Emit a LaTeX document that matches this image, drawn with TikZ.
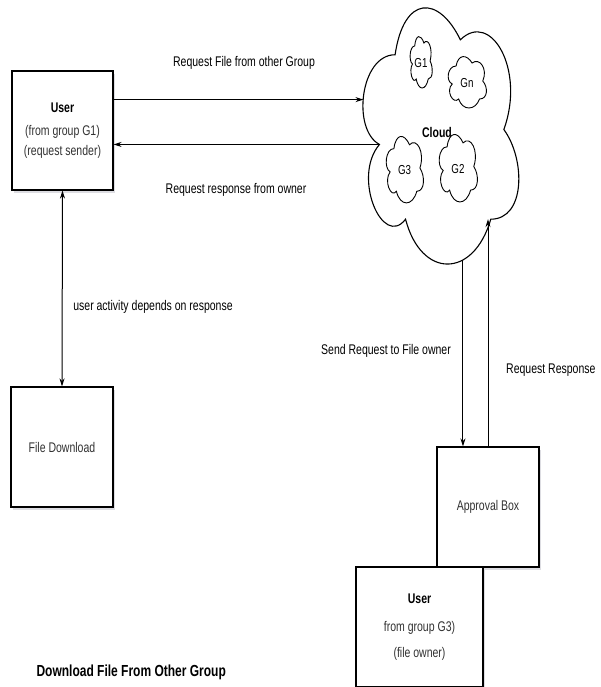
\documentclass[tikz,border=0pt]{standalone}
\usepackage{fontspec}
\setmainfont{Liberation Sans}[FakeStretch=0.75]
\usetikzlibrary{shadows,arrows.meta}
\definecolor{boxText}{RGB}{50,50,50}
\definecolor{shadowGray}{RGB}{120,120,140}

% outline of a cloud in a unit square
\newcommand{\cloudOutline}{(0.25,0.25) .. controls (0.05,0.25) and (0,0.5) .. (0.16,0.55)
  .. controls (0,0.66) and (0.18,0.9) .. (0.31,0.8)
  .. controls (0.4,1) and (0.7,1) .. (0.8,0.8)
  .. controls (1,0.8) and (1,0.6) .. (0.875,0.5)
  .. controls (1,0.3) and (0.8,0.1) .. (0.625,0.2)
  .. controls (0.5,0.05) and (0.3,0.05) .. (0.25,0.25) -- cycle}

\tikzset{
  box/.style={draw, line width=1.1pt, fill=white, align=center, text=boxText,
    font=\fontsize{14}{16}\selectfont,
    drop shadow={shadow xshift=2pt, shadow yshift=-3pt, opacity=0.25, fill=shadowGray}},
  cloudline/.style={draw, line width=1.1pt, fill=white},
  groupline/.style={draw, line width=0.9pt, fill=white},
  flow/.style={line width=1pt, -{Stealth[length=8pt,width=5pt]}},
  lbl/.style={font=\fontsize{14}{16}\selectfont, inner sep=1pt}
}

\begin{document}
\begin{tikzpicture}[x=1pt,y=-1pt]
  \useasboundingbox (0,0) rectangle (600,687);
  \fill[white] (0,0) rectangle (600,687);

  % cloud and the groups in it
  \begin{scope}[shift={(351.6,-20)}, x=174pt, y=-299pt]
    \draw[cloudline] \cloudOutline;
    \coordinate (cloudWest) at (0.068,0.4);
    \coordinate (cloudDip) at (0.16,0.55);
    \coordinate (cloudSouth) at (0.64,0.937);
    \coordinate (cloudIn) at (0.8,0.8);
  \end{scope}
  \foreach \name/\label/\xo/\yo/\w/\h in {g1/G1/408.5/31/24.7/60, gn/Gn/445.4/51/42.7/60, g3/G3/383.5/129.2/41.6/77.6, g2/G2/436.4/127.1/42.7/78.8}
  {
    \begin{scope}[shift={(\xo,\yo)}, x=\w pt, y=-\h pt]
      \draw[groupline] \cloudOutline;
      \node[font=\fontsize{13}{14}\selectfont, inner sep=0pt] (\name) at (0.505,0.53) {\label};
    \end{scope}
  }
  \node[font=\bfseries\fontsize{14}{16}\selectfont] (cloudLabel) at (437,132) {Cloud};

  % boxes
  \node[box, minimum width=101pt, minimum height=119pt] (user) at (62.5,130.5)
    {\textbf{\textcolor{black}{User}}\\[7pt](from group G1)\\[4pt](request sender)};
  \node[box, minimum width=102pt, minimum height=120pt] (download) at (62,447) {File Download};
  \node[box, minimum width=102pt, minimum height=120pt] (approval) at (488,507) {Approval Box};
  \node[box, minimum width=127pt, minimum height=120pt] (owner) at (419.5,627)
    {\textbf{\textcolor{black}{User}}\\[12pt]from group G3)\\[10pt](file owner)};

  % connectors
  \draw[flow] (cloudWest -| user.east) -- (cloudWest);
  \draw[flow] (cloudDip) -- (cloudDip -| user.east);
  \draw[flow, {Stealth[length=8pt,width=5pt]}-{Stealth[length=8pt,width=5pt]}] (user.south) -- (download.north);
  \draw[flow] (cloudSouth) -- (cloudSouth |- approval.north);
  \draw[flow] (approval.north) -- (approval.north |- cloudIn);

  % labels
  \node[lbl] (lblSendFile) at (244,63) {Request File from other Group};
  \node[lbl] (lblResponse) at (236,190) {Request response from owner};
  \node[lbl] (lblActivity) at (153,307) {user activity depends on response};
  \node[lbl] (lblToOwner) at (386,351) {Send Request to File owner};
  \node[lbl, anchor=west] (lblOwnerResp) at (505,370) {Request Response};
  \node[font=\bfseries\fontsize{16}{18}\selectfont, anchor=west] (title) at (33,672) {Download File From Other Group};
\end{tikzpicture}
\end{document}
